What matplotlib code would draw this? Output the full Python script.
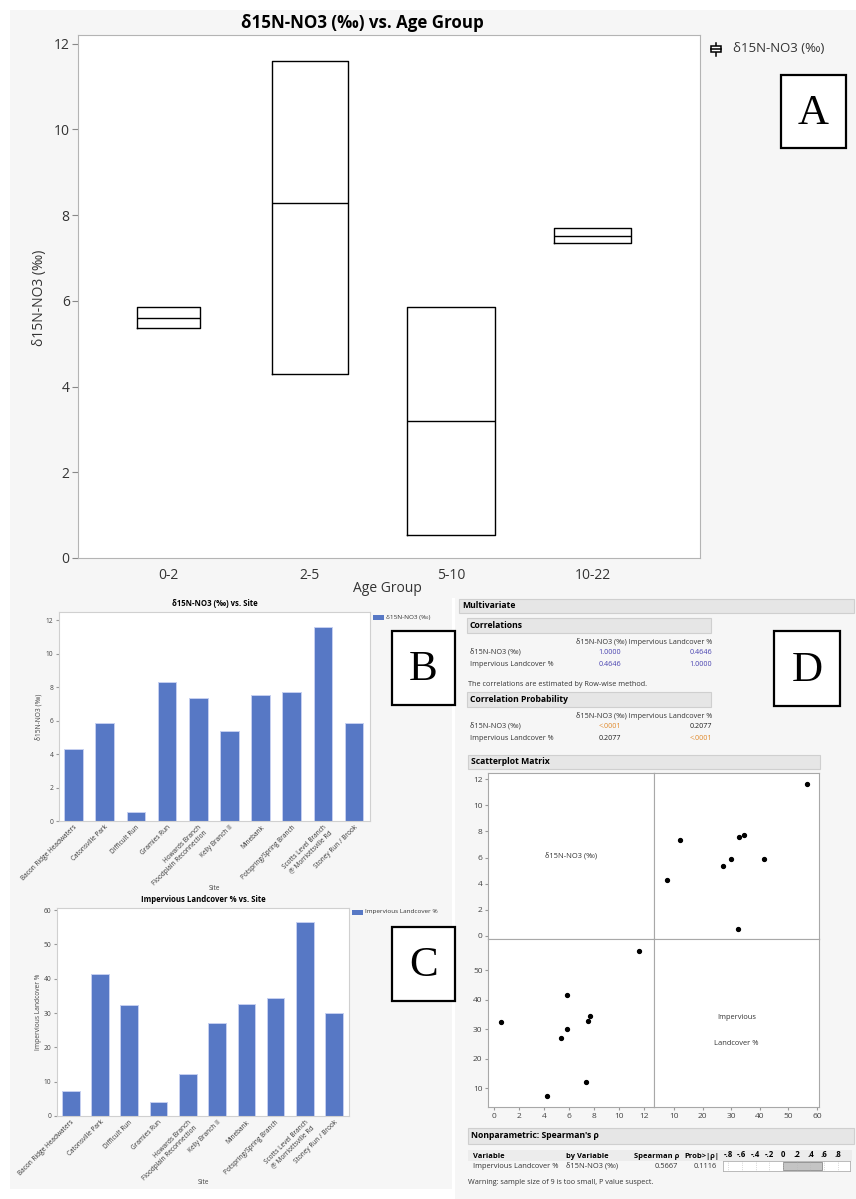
import matplotlib
matplotlib.use("Agg")
import matplotlib.pyplot as plt
from matplotlib.patches import Rectangle
from matplotlib.lines import Line2D

plt.rcParams['font.family'] = ['Open Sans', 'DejaVu Sans']

# ---- data ----
age_groups = ['0-2', '2-5', '5-10', '10-22']
box_q1 = [5.36, 4.29, 0.54, 7.34]
box_median = [5.60, 8.27, 3.19, 7.50]
box_q3 = [5.85, 11.60, 5.85, 7.69]

sites = ['Bacon Ridge Headwaters', 'Catonsville Park', 'Difficult Run', 'Gramies Run',
         'Howards Branch\nFloodplain Reconnection', 'Kelly Branch II', 'Minebank',
         'Potspring/Spring Branch', 'Scotts Level Branch\n@ Morriottsville Rd',
         'Stoney Run / Brook']
d15n = [4.27, 5.85, 0.55, 8.28, 7.33, 5.37, 7.54, 7.70, 11.60, 5.85]
impervious = [7.4, 41.5, 32.4, 4.0, 12.2, 27.0, 32.6, 34.4, 56.5, 30.1]
# Gramies Run has no point in the scatterplot matrix (9 rows)
in_matrix = [True, True, True, False, True, True, True, True, True, True]

corr_vars = ['δ15N-NO3 (‰)', 'Impervious Landcover %']
corr_r = [['1.0000', '0.4646'], ['0.4646', '1.0000']]
corr_p = [['<.0001', '0.2077'], ['0.2077', '<.0001']]
spearman_rho = 0.5667
spearman_p = 0.1116
rho_ticks = [-.8, -.6, -.4, -.2, 0, .2, .4, .6, .8]

# ---- layout helpers (pixel coords, origin top-left) ----
W, H = 856, 1199
fig = plt.figure(figsize=(W / 100, H / 100), dpi=100)
BG = '#f6f6f6'
BAR = '#5778c5'
FRAME = '#b4b4b4'


def px_axes(x0, y0, x1, y1):
    return fig.add_axes([x0 / W, 1 - y1 / H, (x1 - x0) / W, (y1 - y0) / H])


def ftext(x, y, s, **kw):
    kw.setdefault('va', 'center')
    return fig.text(x / W, 1 - y / H, s, **kw)


def frect(x0, y0, x1, y1, **kw):
    fig.patches.append(Rectangle((x0 / W, 1 - y1 / H), (x1 - x0) / W, (y1 - y0) / H,
                                 transform=fig.transFigure, **kw))


def fline(xs, ys, **kw):
    fig.add_artist(Line2D([x / W for x in xs], [1 - y / H for y in ys],
                          transform=fig.transFigure, **kw))


def letter_box(x0, y0, x1, y1, s):
    frect(x0, y0, x1, y1, facecolor='white', edgecolor='black', lw=1.6, zorder=5)
    ftext((x0 + x1) / 2, (y0 + y1) / 2 + 2, s, ha='center', family='Liberation Serif',
          fontsize=31, zorder=6)


# panel backgrounds
for box in [(10, 10, 856, 598), (10, 598, 452, 895), (10, 895, 452, 1189), (455, 598, 856, 1199)]:
    frect(*box, facecolor=BG, edgecolor='none', zorder=-10)

# ---- A: box plot by age group ----
axA = px_axes(78, 35, 700, 558)
A_BOX_W = [0.44, 0.54, 0.62, 0.55]
stats = [dict(label=g, q1=a, med=m, q3=b, whislo=a, whishi=b, fliers=[])
         for g, a, m, b in zip(age_groups, box_q1, box_median, box_q3)]
axA.bxp(stats, positions=range(len(age_groups)), widths=A_BOX_W, showcaps=False,
        showfliers=False, boxprops=dict(color='black', lw=1.0),
        medianprops=dict(color='black', lw=1.0), whiskerprops=dict(lw=0))
axA.set_xlim(-0.64, 3.76)
axA.set_ylim(0, 12.2)
axA.set_yticks(range(0, 13, 2))
axA.tick_params(axis='y', length=4, color='#888888', labelsize=10, labelcolor='#333333', pad=2)
axA.tick_params(axis='x', length=0, labelsize=10, labelcolor='#333333', pad=7)
for sp in axA.spines.values():
    sp.set_color(FRAME)
ftext(362, 23, 'δ15N-NO3 (‰) vs. Age Group', ha='center', fontsize=12.2, weight='bold')
ftext(40, 298, 'δ15N-NO3 (‰)', ha='center', rotation=90, fontsize=10, color='#333333')
ftext(387, 588, 'Age Group', ha='center', fontsize=10, color='#333333')
# legend: box-plot glyph + label
fline([716, 716], [43, 56], color='black', lw=1.1)
frect(711, 46, 721, 52, facecolor='white', edgecolor='black', lw=1.1, zorder=3)
fline([711, 721], [49, 49], color='black', lw=1.1, zorder=4)
ftext(733, 49, 'δ15N-NO3 (‰)', ha='left', fontsize=9.5, color='#333333')
letter_box(781, 75, 846, 148, 'A')


# ---- B / C: bar charts by site ----
def site_bars(box, values, ymax, yticks, title, ylabel, legend_label, title_y, xlabel_y, leg_xy):
    ax = px_axes(*box)
    ax.bar(range(len(sites)), values, width=0.6, color=BAR, edgecolor='#c5cff0', lw=0.7)
    ax.set_xlim(-0.47, len(sites) - 0.49)
    ax.set_ylim(0, ymax)
    ax.set_yticks(yticks)
    ax.set_xticks(range(len(sites)))
    ax.set_xticklabels(sites, rotation=45, ha='right', rotation_mode='anchor')
    ax.tick_params(axis='y', length=2.5, color='#999999', labelsize=4.8, labelcolor='#444444', pad=1.5)
    ax.tick_params(axis='x', length=0, labelsize=4.7, labelcolor='#333333', pad=2)
    for sp in ax.spines.values():
        sp.set_color('#d0d0d0')
    x0, y0, x1, y1 = box
    ftext((x0 + x1) / 2, title_y, title, ha='center', fontsize=5.6, weight='bold')
    ftext(39, (y0 + y1) / 2, ylabel, ha='center', rotation=90, fontsize=4.8, color='#444444')
    ftext((x0 + x1) / 2, xlabel_y, 'Site', ha='center', fontsize=4.8, color='#444444')
    lx, ly = leg_xy
    frect(lx, ly - 2.5, lx + 11, ly + 2.5, facecolor=BAR, edgecolor='none')
    ftext(lx + 13, ly, legend_label, ha='left', fontsize=4.6, color='#333333')
    return ax


site_bars((59, 612, 370, 821), d15n, 12.48, range(0, 13, 2), 'δ15N-NO3 (‰) vs. Site',
          'δ15N-NO3 (‰)', 'δ15N-NO3 (‰)', 604, 888, (373, 617))
letter_box(392, 631, 455, 705, 'B')
site_bars((57, 908, 349, 1116), impervious, 60.6, range(0, 61, 10),
          'Impervious Landcover % vs. Site', 'Impervious Landcover %',
          'Impervious Landcover %', 900, 1183, (352, 912))
letter_box(392, 927, 455, 1001, 'C')

# ---- D: multivariate report ----
HDR = '#e6e6e6'
BLUE = '#4a44b0'
ORANGE = '#e08a2c'


def header(x0, y0, x1, y1, s):
    frect(x0, y0, x1, y1, facecolor=HDR, edgecolor='#cfcfcf', lw=0.8, zorder=-5)
    ftext(x0 + 3, (y0 + y1) / 2, s, ha='left', fontsize=6.2, weight='bold')


header(459, 599, 854, 613, 'Multivariate')


def matrix_table(top, title, cells, colors):
    header(467, top, 711, top + 15, title)
    ftext(712, top + 24, corr_vars[0] + ' ' + corr_vars[1], ha='right', fontsize=5.2, color='#333333')
    for i, var in enumerate(corr_vars):
        y = top + 34 + 12 * i
        ftext(470, y, var, ha='left', fontsize=5.2, color='#333333')
        for j, xr in enumerate([621, 712]):
            ftext(xr, y, cells[i][j], ha='right', fontsize=5.2, color=colors(i, j, cells[i][j]))


matrix_table(618, 'Correlations', corr_r, lambda i, j, s: BLUE)
ftext(468, 685, 'The correlations are estimated by Row-wise method.', ha='left',
      fontsize=5.2, color='#333333')
matrix_table(692, 'Correlation Probability', corr_p,
             lambda i, j, s: ORANGE if s.startswith('<') else '#222222')
letter_box(774, 631, 840, 706, 'D')

# scatterplot matrix
header(468, 755, 820, 769, 'Scatterplot Matrix')
mx = [v for v, k in zip(d15n, in_matrix) if k]
my = [v for v, k in zip(impervious, in_matrix) if k]
D_LIM = (-0.48, 12.8)
D_LIM_V = (-0.23, 12.46)
I_LIM = (3.0, 60.7)
I_LIM_V = (3.6, 60.5)
cells = {}
for r in range(2):
    for c in range(2):
        x0 = 488 if c == 0 else 654
        x1 = 654 if c == 0 else 819
        y0 = 773 if r == 0 else 939
        y1 = 939 if r == 0 else 1107
        ax = px_axes(x0, y0, x1, y1)
        ax.set_facecolor('white')
        for sp in ax.spines.values():
            sp.set_color('#a8a8a8')
            sp.set_linewidth(0.8)
        ax.set_xticks([])
        ax.set_yticks([])
        cells[(r, c)] = ax

ax = cells[(0, 0)]
ax.set_xlim(D_LIM)
ax.set_ylim(D_LIM_V)
ax.set_yticks(range(0, 13, 2))
ax.text(0.5, 0.5, corr_vars[0], transform=ax.transAxes, ha='center', va='center',
        fontsize=5.4, color='#333333')

ax = cells[(0, 1)]
ax.plot(my, mx, 'o', color='black', markersize=2.8, ls='none')
ax.set_xlim(I_LIM)
ax.set_ylim(D_LIM_V)

ax = cells[(1, 0)]
ax.plot(mx, my, 'o', color='black', markersize=2.8, ls='none')
ax.set_xlim(D_LIM)
ax.set_ylim(I_LIM_V)
ax.set_xticks(range(0, 13, 2))
ax.set_yticks(range(10, 51, 10))

ax = cells[(1, 1)]
ax.set_xlim(I_LIM)
ax.set_ylim(I_LIM_V)
ax.set_xticks(range(10, 61, 10))
ax.text(0.5, 0.53, 'Impervious', transform=ax.transAxes, ha='center', va='center',
        fontsize=5.4, color='#333333')
ax.text(0.5, 0.38, 'Landcover %', transform=ax.transAxes, ha='center', va='center',
        fontsize=5.4, color='#333333')
for ax in cells.values():
    ax.tick_params(length=2.5, color='#999999', labelsize=6, labelcolor='#444444', pad=1.5)

# Spearman section
frect(468, 1128, 854, 1144, facecolor=HDR, edgecolor='#cfcfcf', lw=0.8, zorder=-5)
ftext(471, 1136, "Nonparametric: Spearman's ρ", ha='left', fontsize=6.2, weight='bold')
frect(468, 1150, 852, 1161, facecolor='#ececec', edgecolor='none', zorder=-5)
ftext(473, 1156, 'Variable', ha='left', fontsize=5.4, weight='bold')
ftext(566, 1156, 'by Variable', ha='left', fontsize=5.4, weight='bold')
ftext(679, 1156, 'Spearman ρ', ha='right', fontsize=5.4, weight='bold')
ftext(719, 1156, 'Prob>|ρ|', ha='right', fontsize=5.4, weight='bold')
ftext(473, 1166, corr_vars[1], ha='left', fontsize=5.4, color='#333333')
ftext(566, 1166, corr_vars[0], ha='left', fontsize=5.4, color='#333333')
ftext(678, 1166, '%.4f' % spearman_rho, ha='right', fontsize=5.4, color='#333333')
ftext(717, 1166, '%.4f' % spearman_p, ha='right', fontsize=5.4, color='#333333')
axS = px_axes(723, 1161, 850, 1171)
axS.barh([0], [spearman_rho], height=0.8, color='#c4c4c4', edgecolor='#8a8a8a', lw=0.6)
for t in rho_ticks:
    axS.axvline(t, color='#bbbbbb', lw=0.5, ls=':')
axS.set_xlim(-0.873, 0.975)
axS.set_ylim(-0.5, 0.5)
axS.set_yticks([])
axS.xaxis.tick_top()
axS.set_xticks(rho_ticks)
axS.set_xticklabels([('%.1f' % t).replace('0.', '.').replace('-', '-') if t else '0'
                     for t in rho_ticks])
axS.tick_params(axis='x', length=0, pad=1.5, labelsize=5.6)
for lab in axS.get_xticklabels():
    lab.set_fontweight('bold')
for sp in axS.spines.values():
    sp.set_color('#b0b0b0')
    sp.set_linewidth(0.6)
ftext(468, 1183, 'Warning: sample size of 9 is too small, P value suspect.', ha='left',
      fontsize=5.2, color='#333333')

fig.savefig('out.png', dpi=100, facecolor='white')
